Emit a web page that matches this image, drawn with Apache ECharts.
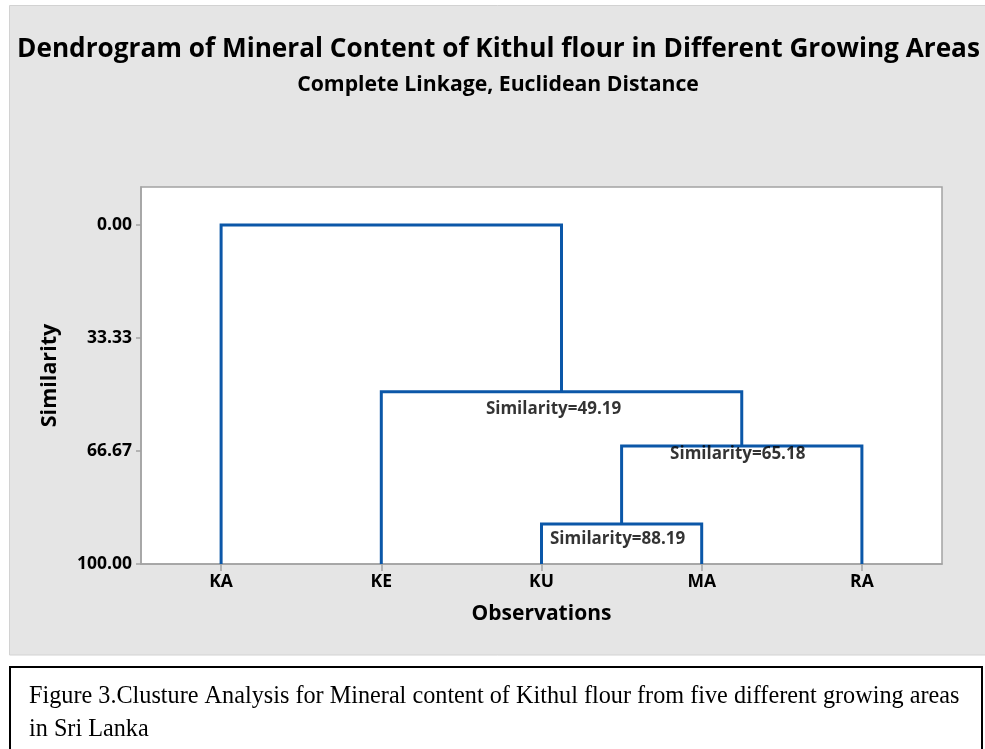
<!DOCTYPE html>
<html>
<head>
<meta charset="utf-8">
<script src="https://cdn.jsdelivr.net/npm/echarts@6/dist/echarts.min.js"></script>
<style>
html,body{margin:0;padding:0;background:#ffffff;}
#chart{width:985px;height:749px;}
</style>
</head>
<body>
<div id="chart"></div>
<script>
// ---- data ----
const categories = ['KA', 'KE', 'KU', 'MA', 'RA'];
// linkage steps: nodes 0-4 are the observations, node 5+k is the cluster made at step k
const mergeLeft = [2, 5, 1, 0];
const mergeRight = [3, 4, 6, 7];
const mergeSimilarity = [88.19, 65.18, 49.19, 0.00];
const mergeLabels = ['Similarity=88.19', 'Similarity=65.18', 'Similarity=49.19', ''];
const yTickValues = [0, 33.33, 66.67, 100];

const titleText = 'Dendrogram of Mineral Content of Kithul flour in Different Growing Areas';
const subtitleText = 'Complete Linkage, Euclidean Distance';
const captionLines = [
  'Figure 3.Clusture Analysis for Mineral content of Kithul flour from five different growing areas',
  'in Sri Lanka'
];

// ---- helpers ----
const FONT = '"Open Sans", "Noto Sans", sans-serif';
const SERIF = '"Liberation Serif", "Times New Roman", serif';
const ctx = document.createElement('canvas').getContext('2d');
function fitSize(text, family, weight, width) {
  ctx.font = weight + ' 100px ' + family;
  return 100 * width / ctx.measureText(text).width;
}

// node positions from the linkage
const nodeX = categories.map((_, i) => i);
const nodeY = categories.map(() => 100);
const segs = [];
const labelPts = [];
for (let k = 0; k < mergeLeft.length; k++) {
  const a = mergeLeft[k], b = mergeRight[k], h = mergeSimilarity[k];
  segs.push([[nodeX[a], nodeY[a]], [nodeX[a], h], [nodeX[b], h], [nodeX[b], nodeY[b]]]);
  nodeX.push((nodeX[a] + nodeX[b]) / 2);
  nodeY.push(h);
  if (mergeLabels[k]) labelPts.push({ value: [(nodeX[a] + nodeX[b]) / 2, h], name: mergeLabels[k] });
}
const labelOffsets = [[-4, 15], [-4, 8], [-8, 17]];

const BLUE = '#0b57a8';
const AXIS_GRAY = '#a3a3a3';
const INK = '#000000';

const series = segs.map(s => ({
  type: 'line',
  data: s,
  symbol: 'none',
  silent: true,
  animation: false,
  lineStyle: { color: BLUE, width: 3, join: 'miter', cap: 'butt' },
  z: 3
}));
series.push({
  type: 'scatter',
  data: labelPts.map((p, i) => ({
    value: p.value,
    name: p.name,
    label: { offset: labelOffsets[i] }
  })),
  symbolSize: 0,
  silent: true,
  animation: false,
  z: 4,
  label: {
    show: true,
    position: 'inside',
    formatter: p => p.name,
    color: INK,
    fontFamily: FONT,
    fontWeight: 'bold',
    fontSize: 17
  }
});

const titleSize = fitSize(titleText, FONT, 'bold', 963);
const subSize = fitSize(subtitleText, FONT, 'bold', 402);
const capSize = fitSize(captionLines[0], SERIF, 'normal', 931);

const chart = echarts.init(document.getElementById('chart'), null, { renderer: 'canvas' });
chart.setOption({
  backgroundColor: '#ffffff',
  animation: false,
  title: [
    {
      text: titleText, left: 498.5, top: 54 - titleSize * 0.68, textAlign: 'center', padding: 0,
      textStyle: { fontFamily: FONT, fontWeight: 'bold', fontSize: titleSize, color: INK }
    },
    {
      text: subtitleText, left: 498, top: 89 - subSize * 0.68, textAlign: 'center', padding: 0,
      textStyle: { fontFamily: FONT, fontWeight: 'bold', fontSize: subSize, color: INK }
    }
  ],
  graphic: [
    {
      type: 'rect', z: -100, silent: true,
      shape: { x: 9.5, y: 5.5, width: 990, height: 649.5 },
      style: { fill: '#e5e5e5', stroke: '#d2d2d2', lineWidth: 1 }
    },
    {
      type: 'rect', z: -100, silent: true,
      shape: { x: 10, y: 667, width: 972, height: 100 },
      style: { fill: '#ffffff', stroke: '#000000', lineWidth: 2 }
    },
    {
      type: 'text', silent: true, x: 29, y: 697,
      style: { text: captionLines[0], font: 'normal ' + capSize + 'px ' + SERIF, fill: '#000', verticalAlign: 'middle', align: 'left' }
    },
    {
      type: 'text', silent: true, x: 29, y: 730,
      style: { text: captionLines[1], font: 'normal ' + capSize + 'px ' + SERIF, fill: '#000', verticalAlign: 'middle', align: 'left' }
    }
  ],
  grid: {
    left: 141, top: 187, width: 801, height: 377,
    show: true, backgroundColor: '#ffffff', borderColor: AXIS_GRAY, borderWidth: 1.5,
    containLabel: false
  },
  xAxis: {
    type: 'value', min: -0.5, max: 4.5,
    name: 'Observations', nameLocation: 'middle', nameGap: 40,
    nameTextStyle: { fontFamily: FONT, fontWeight: 'bold', fontSize: 21, color: INK },
    axisLine: { show: true, onZero: false, lineStyle: { color: AXIS_GRAY, width: 1.5 } },
    axisTick: { show: true, length: 7, customValues: categories.map((_, i) => i), lineStyle: { color: AXIS_GRAY, width: 1.5 } },
    axisLabel: {
      customValues: categories.map((_, i) => i),
      formatter: v => categories[Math.round(v)] || '',
      margin: 9, fontFamily: FONT, fontWeight: 'bold', fontSize: 17.5, color: INK
    },
    splitLine: { show: false }
  },
  yAxis: {
    type: 'value', inverse: true, min: -11.2, max: 100,
    name: 'Similarity', nameLocation: 'middle', nameGap: 80, nameRotate: 90,
    nameTextStyle: { fontFamily: FONT, fontWeight: 'bold', fontSize: 21.5, color: INK },
    axisLine: { show: true, onZero: false, lineStyle: { color: AXIS_GRAY, width: 1.5 } },
    axisTick: { show: true, length: 5, customValues: yTickValues, lineStyle: { color: AXIS_GRAY, width: 1.5 } },
    axisLabel: {
      customValues: yTickValues,
      formatter: v => Number(v).toFixed(2),
      margin: 9, fontFamily: FONT, fontWeight: 'bold', fontSize: 17.5, color: INK
    },
    splitLine: { show: false }
  },
  series: series
});
</script>
</body>
</html>
